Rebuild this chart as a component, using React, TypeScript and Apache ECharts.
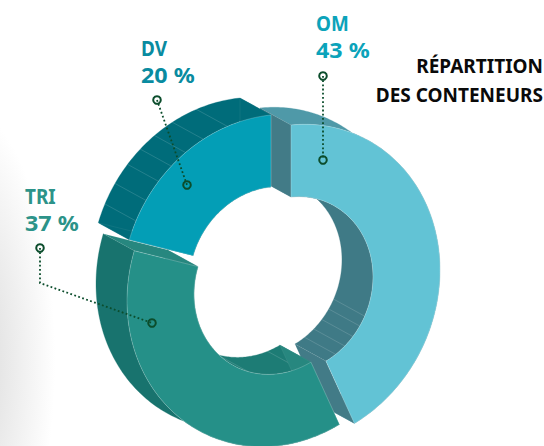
import React, { useEffect, useRef } from "react";
import * as echarts from "echarts";

const categories = ["OM", "DV", "TRI"];
const shares = [43, 20, 37];
const clockwiseOrder = ["OM", "TRI", "DV"];
const titleLines = ["RÉPARTITION", "DES CONTENEURS"];
const percentSuffix = " %";

// Drawing configuration (not data)
const C = [291, 285];
const U = [149, -15];
const V = [0, 160];
const INNER = 0.55;
const EXTRUDE = [-31, -17];
const explode: Record<string, number[]> = { OM: [0, 0], DV: [-20, -10], TRI: [-15, 1] };
const tops: Record<string, string> = { OM: "#62C3D5", DV: "#039EB6", TRI: "#259088" };
const outerWall: Record<string, string> = { OM: "#4F99A8", DV: "#006C7A", TRI: "#18736E" };
const innerWall: Record<string, string> = { OM: "#3F7A86", DV: "#006C7A", TRI: "#1D7C75" };
const endWall: Record<string, string> = { OM: "#427B87", DV: "#006C7A", TRI: "#27877F" };
const ribsOuter: Record<string, number[]> = { OM: [], DV: [343, 333, 325, 318, 311, 303, 295], TRI: [] };
const ribsInner: Record<string, number[]> = { OM: [116, 123, 131, 139, 147], DV: [], TRI: [164, 200] };
const labelPos: Record<string, { x: number; y: number; color: string }> = {
  OM: { x: 316, y: 22, color: "#0CA3BA" },
  DV: { x: 141, y: 47, color: "#098BA0" },
  TRI: { x: 25, y: 195, color: "#2C9389" },
};
const leaders: Record<string, number[][]> = {
  OM: [[323, 76], [323, 160]],
  DV: [[157, 100], [187, 185]],
  TRI: [[40, 248], [40, 283], [152, 323]],
};
const LEADER = "#0B4D2C";

function pt(t: number, k: number, d: number[], e = [0, 0]) {
  const r = (t * Math.PI) / 180;
  const s = Math.sin(r);
  const c = Math.cos(r);
  return [
    C[0] + k * (U[0] * s - V[0] * c) + d[0] + e[0],
    C[1] + k * (U[1] * s - V[1] * c) + d[1] + e[1],
  ];
}
function arc(a: number, b: number, k: number, d: number[], e = [0, 0]) {
  const n = Math.max(2, Math.ceil(Math.abs(b - a)));
  const out: number[][] = [];
  for (let i = 0; i <= n; i++) out.push(pt(a + ((b - a) * i) / n, k, d, e));
  return out;
}
const poly = (points: number[][], fill: string, stroke = "none", lineWidth = 0) => ({
  type: "polygon",
  shape: { points },
  style: { fill, stroke, lineWidth },
});
const rib = (t: number, k: number, d: number[]) => {
  const a = pt(t, k, d);
  const b = pt(t, k, d, EXTRUDE);
  return {
    type: "line",
    shape: { x1: a[0], y1: a[1], x2: b[0], y2: b[1] },
    style: { stroke: "rgba(255,255,255,0.24)", lineWidth: 0.6 },
  };
};

export default function App() {
  const ref = useRef<HTMLDivElement>(null);
  useEffect(() => {
    if (!ref.current) return;
    const chart = echarts.init(ref.current, undefined, { renderer: "svg" });
    const total = shares.reduce((a, b) => a + b, 0);
    const shareOf = (n: string) => shares[categories.indexOf(n)];
    const renderItem = (params: any, api: any) => {
      const name = categories[params.dataIndex];
      const pos = clockwiseOrder.indexOf(name);
      const before = clockwiseOrder.slice(0, pos).reduce((s, n) => s + shareOf(n), 0);
      const a = (before / total) * 360;
      const b = a + (api.value(0) / total) * 360;
      const d = explode[name];
      const out = outerWall[name];
      const inn = innerWall[name];
      const children: any[] = [];
      children.push(poly([...arc(a, b, 1, d), ...arc(b, a, 1, d, EXTRUDE)], out, out, 0.3));
      ribsOuter[name].forEach((t) => children.push(rib(t, 1, d)));
      children.push(poly([...arc(a, b, INNER, d), ...arc(b, a, INNER, d, EXTRUDE)], inn, inn, 0.3));
      ribsInner[name].forEach((t) => children.push(rib(t, INNER, d)));
      [a, b].forEach((t) => {
        children.push(
          poly(
            [pt(t, 1, d), pt(t, INNER, d), pt(t, INNER, d, EXTRUDE), pt(t, 1, d, EXTRUDE)],
            endWall[name],
            "rgba(255,255,255,0.15)",
            0.4
          )
        );
      });
      children.push(
        poly([...arc(a, b, 1, d), ...arc(b, a, INNER, d)], tops[name], "rgba(255,255,255,0.35)", 0.6)
      );
      return { type: "group", children };
    };

    const labels: any[] = [];
    categories.forEach((name, i) => {
      const p = labelPos[name];
      labels.push({
        type: "text",
        x: p.x,
        y: p.y,
        scaleX: 0.86,
        style: {
          text: name,
          fill: p.color,
          font: 'bold 22px "Noto Sans"',
          textVerticalAlign: "middle",
        },
      });
      labels.push({
        type: "text",
        x: p.x,
        y: p.y + 28,
        scaleX: 1.06,
        style: {
          text: shares[i] + percentSuffix,
          fill: p.color,
          font: 'bold 22px "Noto Sans"',
          textVerticalAlign: "middle",
        },
      });
      const pts = leaders[name];
      labels.push({
        type: "polyline",
        z: 10,
        shape: { points: pts },
        style: { stroke: LEADER, lineWidth: 1.8, fill: "none", lineDash: [1.8, 2.4] },
      });
      [pts[0], pts[pts.length - 1]].forEach((c) =>
        labels.push({
          type: "circle",
          z: 10,
          shape: { cx: c[0], cy: c[1], r: 3.8 },
          style: { stroke: LEADER, lineWidth: 2, fill: "none" },
        })
      );
    });
    titleLines.forEach((t, i) =>
      labels.push({
        type: "text",
        x: 543,
        y: 56 + i * 29,
        style: { text: t, fill: "#0A0A0A", font: 'bold 19px "Liberation Sans Narrow", "Noto Sans"', textAlign: "right" },
      })
    );

    chart.setOption({
      animation: false,
      backgroundColor: "#ffffff",
      graphic: {
        elements: [
          {
            type: "rect",
            z: -10,
            silent: true,
            shape: { x: 0, y: 110, width: 120, height: 336 },
            style: {
              fill: new echarts.graphic.RadialGradient(-0.29, 0.744, 0.75, [
                { offset: 0, color: "#D6D6D6" },
                { offset: 1, color: "#FFFFFF" },
              ]),
            },
          },
          ...labels,
        ],
      },
      series: [
        {
          type: "custom",
          coordinateSystem: "none",
          silent: true,
          renderItem,
          data: shares.map((s) => [s]),
          z: 2,
        },
      ],
    });
    return () => chart.dispose();
  }, []);
  return <div ref={ref} style={{ position: "fixed", left: 0, top: 0, width: 544, height: 446 }} />;
}
